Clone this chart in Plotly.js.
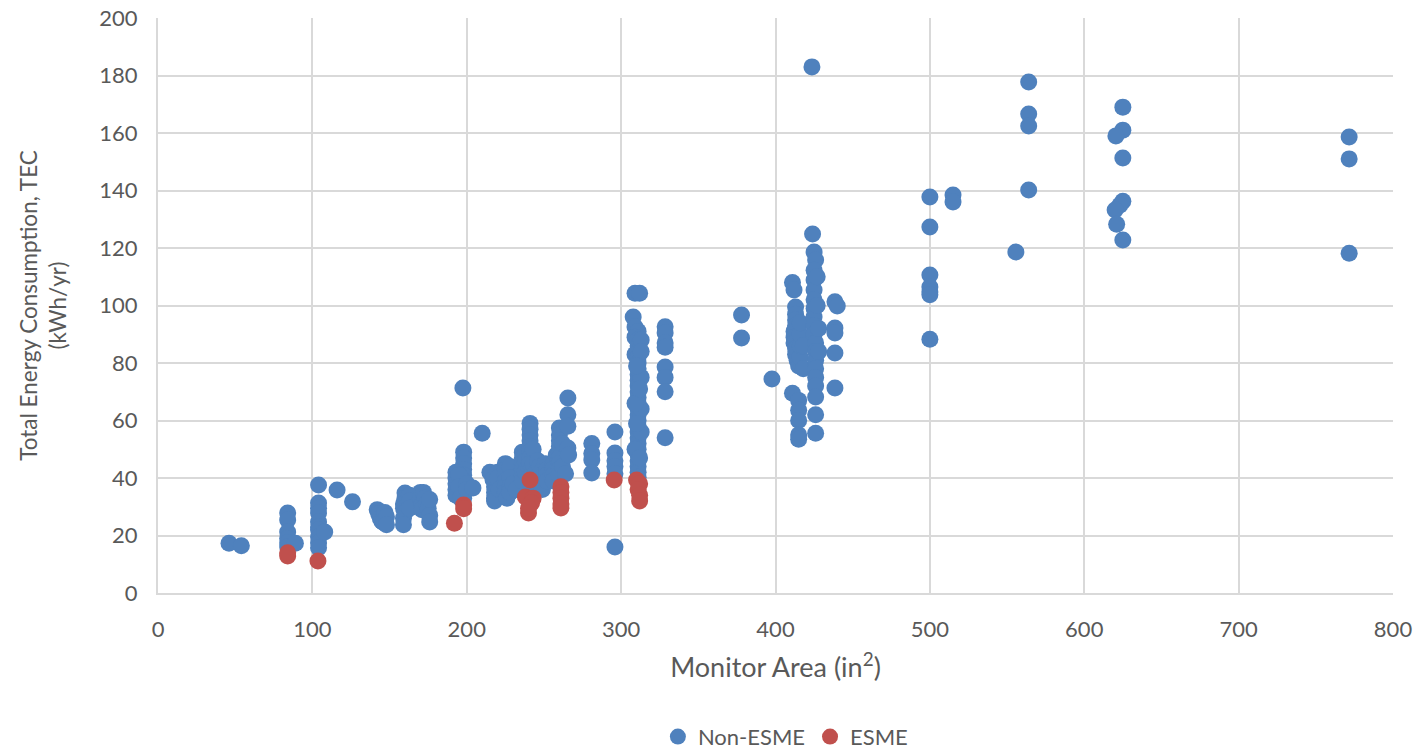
<!DOCTYPE html>
<html>
<head>
<meta charset="utf-8">
<script src="https://cdn.plot.ly/plotly-3.0.1.min.js"></script>
<style>html,body{margin:0;padding:0;background:#fff;}#chart{width:1416px;height:752px;}</style>
</head>
<body>
<div id="chart"></div>
<script>
// Non-ESME monitors: area (in^2) and TEC (kWh/yr)
const nonEsmeX = [
  46,54,84,84,84,84,84,84,89,
  104,104,104,104,104,104,104,104,104,104,108,116,126,
  142,143,144,145,146,147,148,148,
  160,160,159,159,160,159,159,163,163,163,
  170,170,171,171,172,173,174,175,176,176,176,
  197.5,198,198,198,198,198,198,198,198,198,193,193,193,193,193,195,195,196,200,200,204,
  210,215,217,218,218,218,218,220,220,221,
  225,225,225,225,225,225,226,228,228,228,228,230,232,
  236,236,236,236,236,236,238,238,240,240,241,241,241,241,241,241,241,241,242,242,242,242,243,243,245,245,
  246,247,248,248,248,249,251,252,252,252,
  256,256,256,256,258,260,260,260,260,260,260,260,260,260,262,262,264,
  265.5,265.5,265.5,265.5,266,
  281,281,281,281,296,296,296,296,296,296,
  309,312,307.8,309,311,309,311,311,311,309,311,311,311,311,311,311,311,311,311,311,311,311,311,311,311,311,311,311,311,311,311,311,
  313,313,313,313,313,309,309,310,312,310,312,
  328.5,328.5,328.5,328.5,328.5,328.5,328.5,328.5,
  378,378,397.7,
  411,412,413,413,413,413,412,412,412,413,413,414,415,416,416,416,416,411,415,415,415,415,415,418,418,
  423.6,424,425,426,425,425,425,425,425,425,425,425,426,426,426,426,426,426,426,426,426,428,428,427,427,
  438.5,440,438.5,438.5,438.5,438.5,
  500,500,500,500,500,500,500,515,515,555.7,
  564,564,564,564,
  625,625,620.5,625,625,623,620,621,625,
  771.6,771.6,771.6
];
const nonEsmeY = [
  17.3,16.4,27.8,25.4,21.2,19,17.5,16,17.3,
  37.6,31.3,29.5,27.8,24.7,23,21.9,19.5,17.4,15.7,21.2,35.8,31.7,
  29,27.5,26,25,24.5,28,26.5,23.7,
  34.8,33,31,29.5,28,26,23.7,34,32,29.5,
  35,33,31,29,35,33,31,29.5,27,24.7,32.5,
  71.3,49,47,45,43,41,39,37,35,33,42,40,38,36,34,41,37,33,38,36,36.5,
  55.6,42,39.5,37,35,33,32,42,40,36,
  45,43,41,39,37,35,33,44,40,37,35,38,36,
  49,47,45,43,41,39,46,42,44,40,59,57,55,53,51,49,47,45,43,41,39,37,50,45,42,38,
  46,44,42,40,38,36,45,43,41,39,
  45,43,41,39,48,57.4,55,53,51,49,47,45,43,41,52,44,41.5,
  67.8,62,58,50.4,48,
  52,48.5,46.3,41.7,56,48.7,46,44,41.5,16,
  104.3,104.3,96,92.5,91,89,88,86,84,83,82,80,78,76,74,72,70,68,66,64,62,60,58,56,54,52,50,48,46,44,42,40.3,
  88,84,75,64,56,66,50,79,71,59,47,
  92.6,90.4,87,85.5,78.6,75,70,54,
  96.7,88.7,74.4,
  108,105.4,99.5,97,95,93,91,89,87,85,83,81,79,82,86,90,94,69.5,67,63.6,60,55,53.5,86,78,
  183,124.9,118.6,115.8,112.3,108.9,105.4,102,99,96,93,90,87,84,81,78,75,72,68.2,62,55.6,92,84,110,100,
  101.3,99.8,92.2,90.4,83.5,71.3,
  137.7,127.3,110.6,106.4,104.7,103.7,88.3,138.4,136,118.6,
  177.7,166.6,162.4,140.2,
  169,161,159,151.3,136.3,134.9,133.2,128.3,122.8,
  158.6,151,118.2
];
// ESME monitors
const esmeX = [84,84,103.6,192,198,198,241,238,243,240,242,240,261,261,261,261,261,295.5,310,312,311,312,312];
const esmeY = [12.9,14,11.1,24.3,30.6,29.3,39.3,33.4,33,27.8,31.3,29.5,37,35,33,31,29.6,39.3,39.3,38,36,34,32];

const seriesNames = ['Non-ESME', 'ESME'];
const seriesColors = ['#4F81BD', '#C0504D'];
const xTickVals = [0,100,200,300,400,500,600,700,800];
const yTickVals = [0,20,40,60,80,100,120,140,160,180,200];

const FONT = 'Lato, "Open Sans", sans-serif';
const GRAY = '#595959';

const traces = [
  {x: nonEsmeX, y: nonEsmeY, name: seriesNames[0], type: 'scatter', mode: 'markers',
   marker: {color: seriesColors[0], size: 17, line: {width: 0}}},
  {x: esmeX, y: esmeY, name: seriesNames[1], type: 'scatter', mode: 'markers',
   marker: {color: seriesColors[1], size: 17, line: {width: 0}}}
];

const layout = {
  width: 1416, height: 752,
  margin: {l: 158, r: 23, t: 18, b: 159, autoexpand: false},
  paper_bgcolor: '#ffffff', plot_bgcolor: '#ffffff',
  font: {family: FONT, color: GRAY, size: 21},
  showlegend: true,
  legend: {orientation: 'h', x: 0.508, xanchor: 'center', y: -0.25, yanchor: 'middle',
           font: {size: 22, color: GRAY}},
  xaxis: {
    range: [0, 800], tickvals: xTickVals, ticktext: xTickVals.map(String),
    showgrid: true, gridcolor: '#D9D9D9', gridwidth: 2,
    zeroline: false, showline: true, linecolor: '#D9D9D9', linewidth: 2,
    ticks: '', ticklabelstandoff: 16,
    tickfont: {size: 22, color: GRAY},
    title: {text: 'Monitor Area (in<sup>2</sup>)', font: {size: 27, color: GRAY}, standoff: 17},
    automargin: false
  },
  yaxis: {
    range: [0, 200], tickvals: yTickVals, ticktext: yTickVals.map(String),
    showgrid: true, gridcolor: '#D9D9D9', gridwidth: 2,
    zeroline: false, showline: true, linecolor: '#D9D9D9', linewidth: 2,
    ticks: '', ticklabelstandoff: 14,
    tickfont: {size: 22, color: GRAY},
    title: {text: 'Total Energy Consumption, TEC<br>(kWh/yr)', font: {size: 22.5, color: GRAY}, standoff: 26},
    automargin: false
  }
};

Plotly.newPlot('chart', traces, layout, {displayModeBar: false, staticPlot: true});
</script>
</body>
</html>
